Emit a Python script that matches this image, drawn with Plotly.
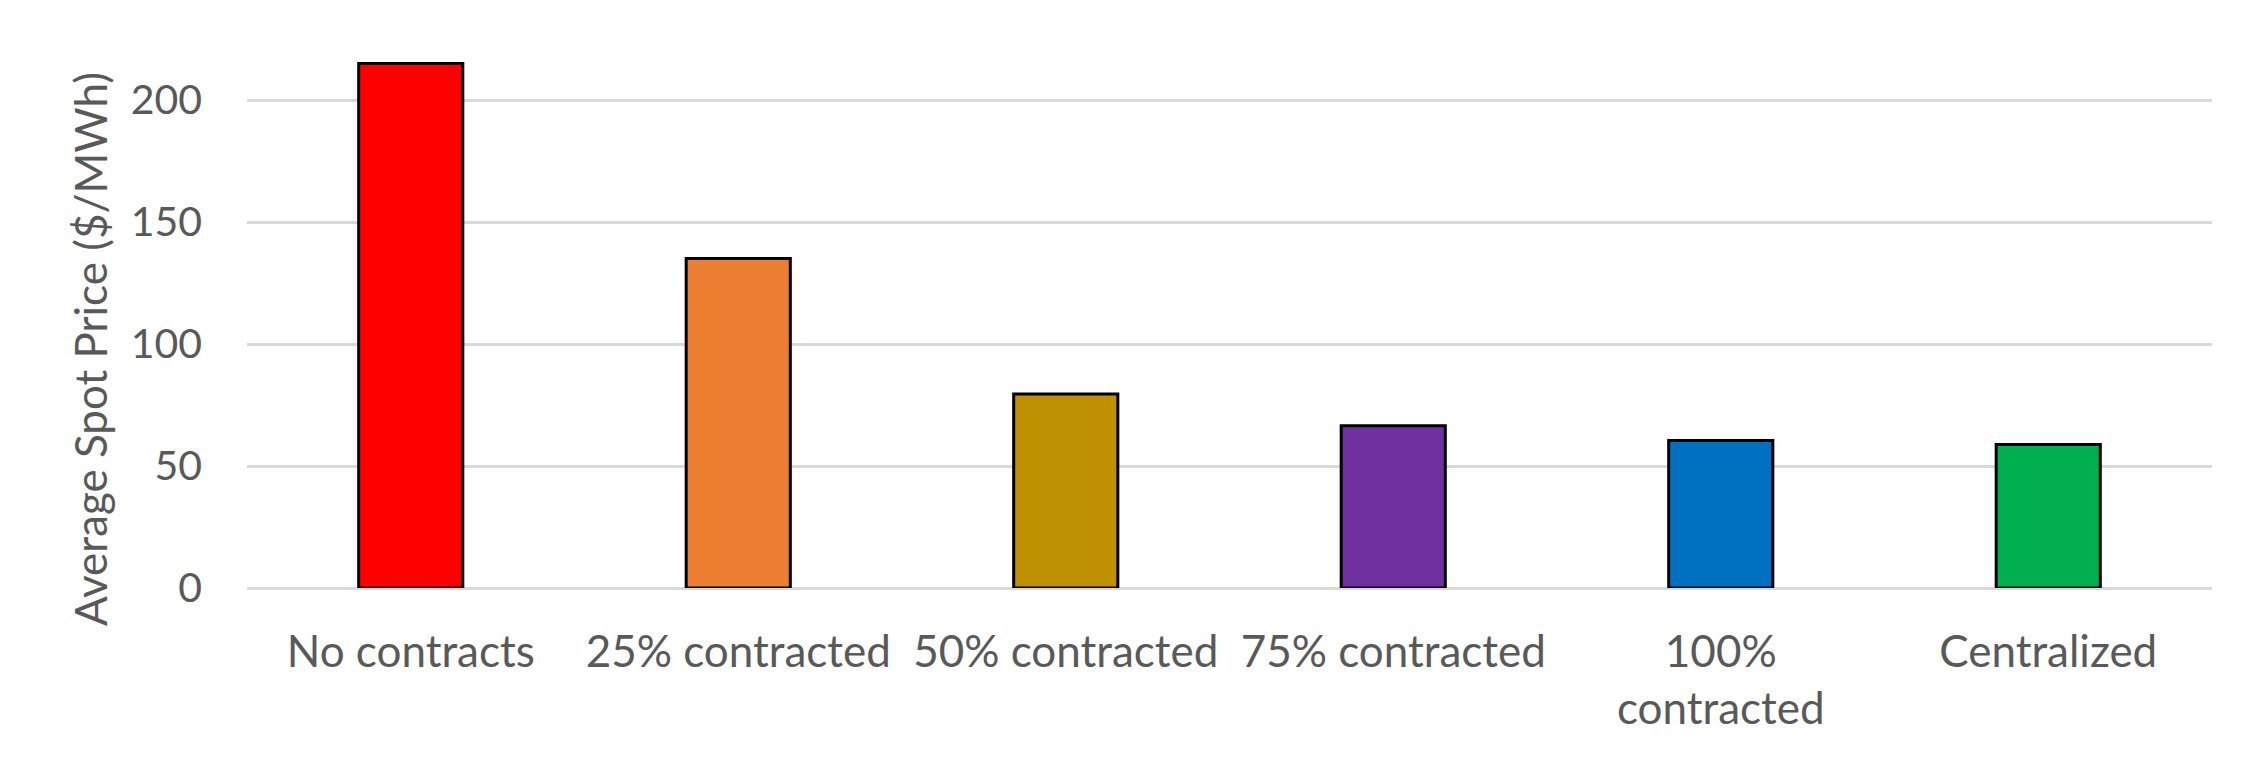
import plotly.graph_objects as go

categories = ["No contracts", "25% contracted", "50% contracted", "75% contracted",
              "100%<br>contracted", "Centralized"]
values = [215, 135, 79.5, 66.5, 60.5, 58.8]
colors = ["#FF0000", "#ED7D31", "#BF9000", "#7030A0", "#0070C0", "#00B050"]
y_ticks = [0, 50, 100, 150, 200]
y_title = "Average Spot Price ($/MWh)"

# The page body has an 8px margin, so the figure is shifted by 8px.
OFF = 8
W, H = 2263 - 2 * OFF, 767 - 2 * OFF
# target plot-area in window coords: x 247..2212, y 39..588
L = 247 - OFF
T = 39 - OFF
R = W - (2212 - OFF)
B = H - (588 - OFF)
FONT = "Lato"
TXT = "#595959"

fig = go.Figure(go.Bar(
    x=categories, y=values,
    marker=dict(color=colors, line=dict(color="black", width=3)),
    width=0.318,
))

fig.update_layout(
    width=W, height=H,
    margin=dict(l=L, r=R, t=T, b=B, pad=0),
    paper_bgcolor="white", plot_bgcolor="white",
    showlegend=False,
    font=dict(family=FONT, size=41, color=TXT),
)
fig.update_xaxes(
    showgrid=False, showline=False, zeroline=False,
    ticks="", ticklabelstandoff=34,
    tickfont=dict(family=FONT, size=44, color=TXT),
)
fig.update_yaxes(
    range=[0, 225], tickvals=y_ticks,
    showgrid=True, gridcolor="#D9D9D9", gridwidth=2.5,
    zeroline=True, zerolinecolor="#D9D9D9", zerolinewidth=2.5,
    showline=False, ticks="", ticklabelstandoff=44,
    tickfont=dict(family=FONT, size=41, color=TXT),
)
plot_w = 2212 - 247
plot_h = 588 - 39
fig.add_annotation(
    text=y_title, textangle=-90, showarrow=False,
    xref="paper", yref="paper",
    x=(90 - 247) / plot_w, y=(588 - 349) / plot_h,
    xanchor="center", yanchor="middle",
    font=dict(family=FONT, size=44, color=TXT),
)

fig.write_html("out.html")
